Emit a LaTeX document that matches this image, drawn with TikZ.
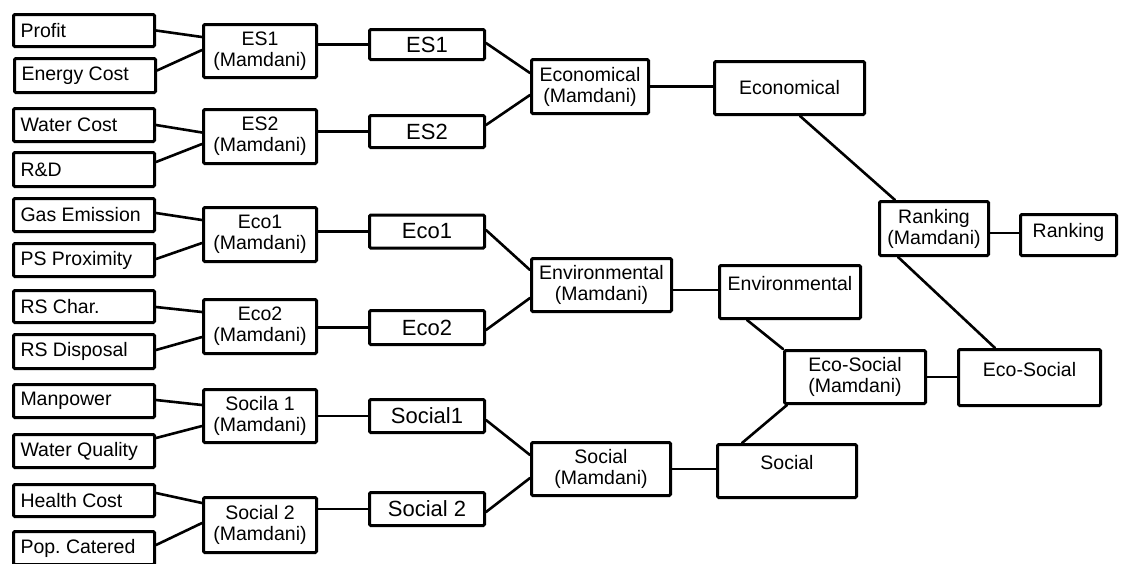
\documentclass[tikz,border=0pt]{standalone}
\usepackage{fontspec}
\setmainfont{Liberation Sans}
\usetikzlibrary{calc}
\frenchspacing
\begin{document}
\begin{tikzpicture}[x=1pt,y=-1pt,
  box/.style={draw, line width=3pt, rounded corners=1.2pt, inner sep=0pt,
    font=\fontsize{19.5}{21}\selectfont, align=center},
  inbox/.style={box, text width=127pt, inner xsep=7pt, align=flush left, minimum height=33pt},
  midbox/.style={box, font=\fontsize{22}{24}\selectfont},
  topbox/.style={box, text height=25pt, text depth=28pt},
  conn/.style={line width=2.6pt, line cap=round}]
\useasboundingbox (0,0) rectangle (1123,563);
\clip (0,0) rectangle (1123,563);
\fill[white] (0,0) rectangle (1123,563);

% inputs
\node[inbox, minimum height=32pt] (profit) at (84,30.5) {Profit};
\node[inbox, minimum height=34pt] (energy) at (85,75.5) {Energy Cost};
\node[inbox] (water) at (84,125) {Water Cost};
\node[inbox, minimum height=34pt] (rd) at (84,169.5) {R\&D};
\node[inbox] (gas) at (84,215) {Gas Emission};
\node[inbox] (ps) at (84,260) {PS Proximity};
\node[inbox, minimum height=32pt] (rschar) at (84,306.5) {RS Char.};
\node[inbox, minimum height=34pt] (rsdisp) at (84,351.5) {RS Disposal};
\node[inbox] (manpower) at (84,401) {Manpower};
\node[inbox] (waterq) at (84,451) {Water Quality};
\node[inbox, minimum height=32pt] (health) at (84,500.5) {Health Cost};
\node[inbox] (pop) at (84,548) {Pop. Catered};

% first Mamdani column
\node[box, minimum width=113pt, minimum height=53pt] (es1m) at (260,51) {ES1\\(Mamdani)};
\node[box, minimum width=113pt, minimum height=54pt] (es2m) at (260,136.5) {ES2\\(Mamdani)};
\node[box, minimum width=113pt, minimum height=54pt] (eco1m) at (260,234.5) {Eco1\\(Mamdani)};
\node[box, minimum width=113pt, minimum height=54pt] (eco2m) at (260,326.5) {Eco2\\(Mamdani)};
\node[box, minimum width=113pt, minimum height=53pt] (soc1m) at (260,416) {Socila 1\\(Mamdani)};
\node[box, minimum width=113pt, minimum height=55pt] (soc2m) at (260,525) {Social 2\\(Mamdani)};

% second column
\node[midbox, minimum width=115pt, minimum height=30pt] (es1) at (427,44.5) {ES1};
\node[midbox, minimum width=115pt, minimum height=32pt] (es2) at (427,131.5) {ES2};
\node[midbox, minimum width=115pt, minimum height=33pt] (eco1) at (427,231.5) {Eco1};
\node[midbox, minimum width=115pt, minimum height=34pt] (eco2) at (427,327.5) {Eco2};
\node[midbox, minimum width=115pt, minimum height=33pt] (social1) at (427,416) {Social1};
\node[midbox, minimum width=115pt, minimum height=33pt] (social2) at (427,509) {Social 2};

% third column
\node[box, minimum width=117pt, minimum height=54pt] (econm) at (590,86.5) {Economical\\(Mamdani)};
\node[box, minimum width=140pt, minimum height=53pt] (envm) at (601.5,285) {Environmental\\(Mamdani)};
\node[box, minimum width=139pt, minimum height=53pt] (socm) at (601,469) {Social\\(Mamdani)};

% fourth column
\node[box, minimum width=150pt, minimum height=53pt] (econ) at (789.5,88) {Economical};
\node[topbox, minimum width=141pt, minimum height=53pt] (env) at (790,292) {Environmental};
\node[topbox, minimum width=139pt, minimum height=53pt] (social) at (787,471) {Social};

% fifth column
\node[box, minimum width=141pt, minimum height=53pt] (ecosocm) at (855,377) {Eco-Social\\(Mamdani)};
\node[box, minimum width=109pt, minimum height=54pt] (rankm) at (934,228.5) {Ranking\\(Mamdani)};
\node[topbox, minimum width=142pt, minimum height=56pt] (ecosoc) at (1029.5,377.5) {Eco-Social};
\node[box, text height=23pt, text depth=18pt, minimum width=96pt, minimum height=41pt] (rank) at (1068.5,235) {Ranking};

% inputs to first Mamdani column
\draw[conn] (profit.east) -- ($(es1m.west)+(0,-14)$);
\draw[conn] ($(energy.east)+(0,-5)$) -- ($(es1m.west)+(0,-1)$);
\draw[conn] (water.east) -- ($(es2m.west)+(0,-4)$);
\draw[conn] ($(rd.east)+(0,-7.5)$) -- ($(es2m.west)+(0,7.5)$);
\draw[conn] ($(gas.east)+(0,-2)$) -- ($(eco1m.west)+(0,-14.5)$);
\draw[conn] ($(ps.east)+(0,-1)$) -- ($(eco1m.west)+(0,8.5)$);
\draw[conn] ($(rschar.east)+(0,0.5)$) -- ($(eco2m.west)+(0,-14.5)$);
\draw[conn] ($(rsdisp.east)+(0,-1.5)$) -- ($(eco2m.west)+(0,10.5)$);
\draw[conn] ($(manpower.east)+(0,-1)$) -- ($(soc1m.west)+(0,-11)$);
\draw[conn] ($(waterq.east)+(0,-13)$) -- ($(soc1m.west)+(0,10)$);
\draw[conn] ($(health.east)+(0,-7.5)$) -- ($(soc2m.west)+(0,-22)$);
\draw[conn] ($(pop.east)+(0,-3)$) -- ($(soc2m.west)+(0,-2)$);

% first Mamdani column to second column
\draw[conn] (es1m.east |- es1.west) -- (es1.west);
\draw[conn] (es2m.east |- es2.west) -- (es2.west);
\draw[conn] (eco1m.east |- eco1.west) -- (eco1.west);
\draw[conn] (eco2m.east |- eco2.west) -- (eco2.west);
\draw[conn] (soc1m.east |- social1.west) -- (social1.west);
\draw[conn] (soc2m.east |- social2.west) -- (social2.west);

% second to third column
\draw[conn] ($(es1.east)+(0,-1.5)$) -- ($(econm.west)+(0,-13.5)$);
\draw[conn] ($(es2.east)+(0,-6.5)$) -- ($(econm.west)+(0,8.5)$);
\draw[conn] ($(eco1.east)+(0,-1.5)$) -- ($(envm.west)+(0,-15)$);
\draw[conn] ($(eco2.east)+(0,2.5)$) -- ($(envm.west)+(0,13)$);
\draw[conn] ($(social1.east)+(0,4)$) -- ($(socm.west)+(0,-14)$);
\draw[conn] ($(social2.east)+(0,3)$) -- ($(socm.west)+(0,9)$);

% third to fourth column
\draw[conn] (econm.east) -- (econm.east -| econ.west);
\coordinate (envout) at ($(envm.east)+(0,5)$);
\draw[conn] (envout) -- (envout -| env.west);
\draw[conn] (socm.east) -- (socm.east -| social.west);

% right part
\draw[conn] ($(econ.south)+(10.5,0)$) -- ($(rankm.north)+(-39,0)$);
\draw[conn] ($(env.south west)+(29,0)$) -- (ecosocm.north west);
\draw[conn] ($(social.north)+(-45,0)$) -- ($(ecosocm.south west)+(4,0)$);
\draw[conn] (ecosocm.east) -- (ecosocm.east -| ecosoc.west);
\draw[conn] ($(rankm.south)+(-36,0)$) -- ($(ecosoc.north)+(-34.5,0)$);
\coordinate (rankout) at ($(rankm.east)+(0,4.5)$);
\draw[conn] (rankout) -- (rankout -| rank.west);
\end{tikzpicture}
\end{document}
